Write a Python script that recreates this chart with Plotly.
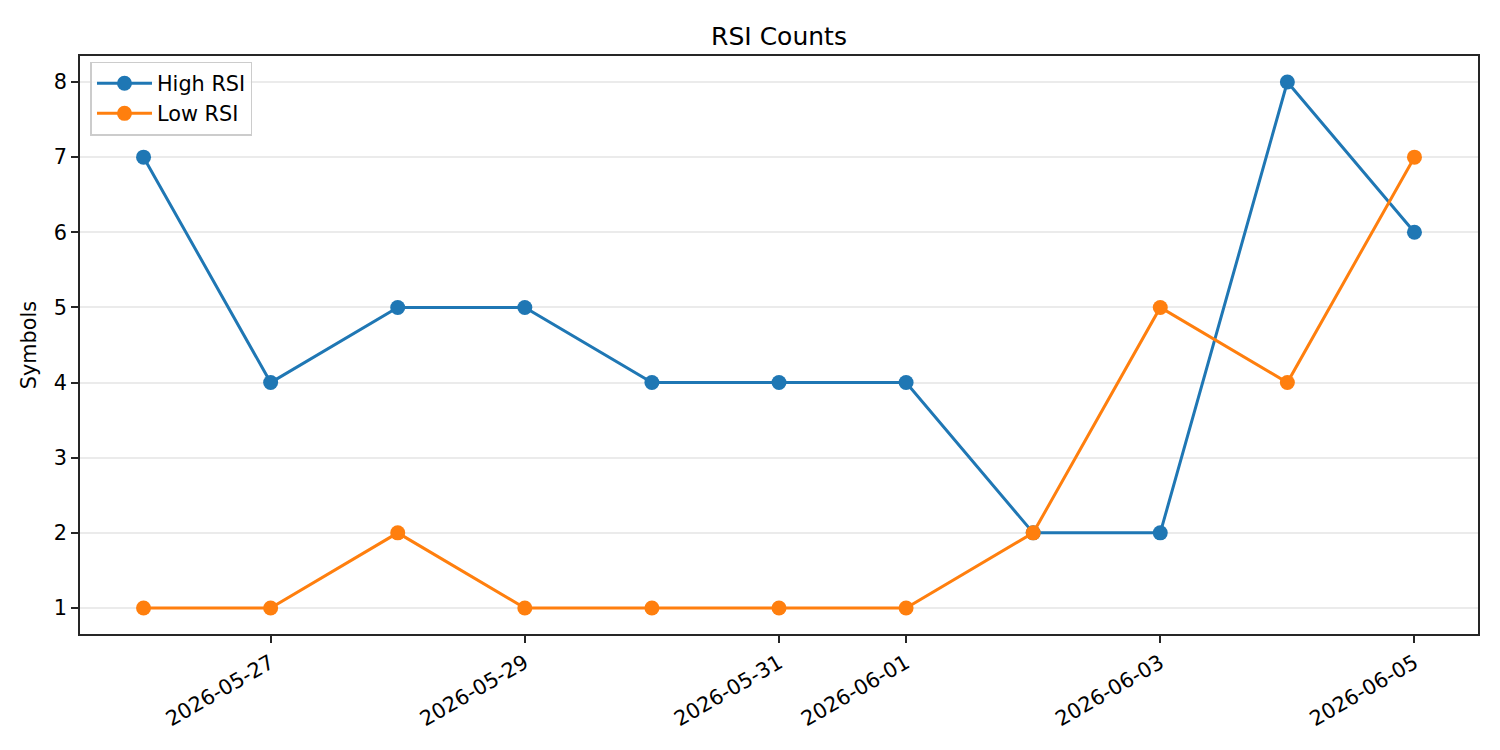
import plotly.graph_objects as go

dates = ["2026-05-26", "2026-05-27", "2026-05-28", "2026-05-29", "2026-05-30",
         "2026-05-31", "2026-06-01", "2026-06-02", "2026-06-03", "2026-06-04", "2026-06-05"]
high_rsi = [7, 4, 5, 5, 4, 4, 4, 2, 2, 8, 6]
low_rsi = [1, 1, 2, 1, 1, 1, 1, 2, 5, 4, 7]
x_ticks = ["2026-05-27", "2026-05-29", "2026-05-31", "2026-06-01", "2026-06-03", "2026-06-05"]
y_ticks = [1, 2, 3, 4, 5, 6, 7, 8]

FONT = "DejaVu Sans"
FS = 20.8
AX = "#262626"
fig = go.Figure()
fig.add_trace(go.Scatter(x=dates, y=high_rsi, name="High RSI", mode="lines+markers",
                         line=dict(color="#1f77b4", width=3), marker=dict(size=15, color="#1f77b4")))
fig.add_trace(go.Scatter(x=dates, y=low_rsi, name="Low RSI", mode="lines+markers",
                         line=dict(color="#ff7f0e", width=3), marker=dict(size=15, color="#ff7f0e")))

fig.update_layout(
    width=1500, height=750,
    paper_bgcolor="white", plot_bgcolor="white",
    margin=dict(l=80, r=22, t=56, b=116),
    font=dict(family=FONT, size=FS, color="black"),
    title=dict(text="RSI Counts", xref="paper", x=0.5, xanchor="center",
               yref="container", y=1 - 36/750, yanchor="middle",
               font=dict(size=25, family=FONT)),
    showlegend=True,
    legend=dict(x=0.0075, y=0.99, xanchor="left", yanchor="top",
                bordercolor="#cccccc", borderwidth=1.5, bgcolor="rgba(255,255,255,0.8)",
                font=dict(size=FS, family=FONT), tracegroupgap=0, itemwidth=55),
    xaxis=dict(type="date", range=["2026-05-25 12:00", "2026-06-05 12:00"],
               tickvals=x_ticks, ticktext=x_ticks, tickangle=-30,
               showgrid=False, showline=True, linecolor=AX, linewidth=1.6, mirror=True,
               ticks="outside", ticklen=7, tickwidth=1.6, tickcolor=AX, zeroline=False,
               tickfont=dict(size=FS, family=FONT)),
    yaxis=dict(range=[0.654, 8.346], tickvals=y_ticks,
               showgrid=True, gridcolor="#ebebeb", gridwidth=1.5,
               showline=True, linecolor=AX, linewidth=1.6, mirror=True,
               ticks="outside", ticklen=7, tickwidth=1.6, tickcolor=AX, zeroline=False,
               title=dict(text="Symbols", font=dict(size=FS, family=FONT), standoff=12),
               tickfont=dict(size=FS, family=FONT)),
)

fig.write_html("out.html")
